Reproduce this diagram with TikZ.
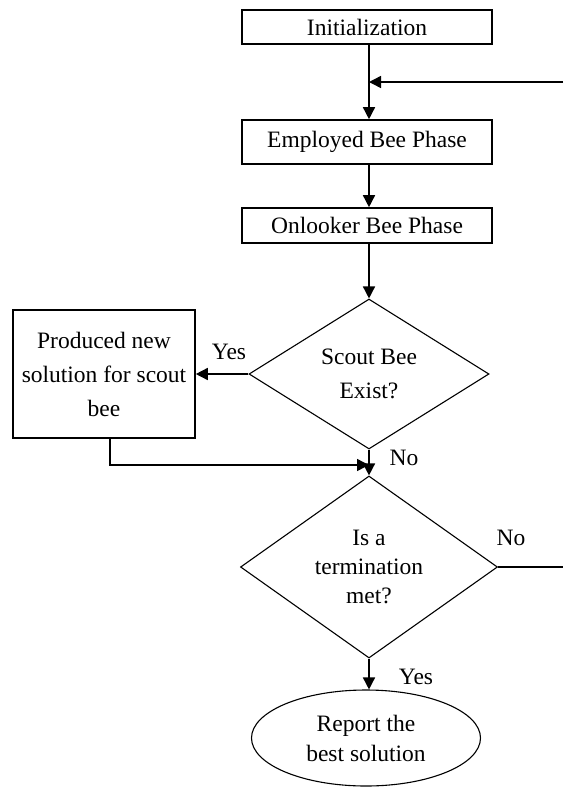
\documentclass[tikz,border=0pt]{standalone}
\usepackage{fontspec}
\setmainfont{Liberation Serif}
\usetikzlibrary{shapes.geometric,arrows.meta}
\begin{document}
\begin{tikzpicture}[x=1pt,y=-1pt,
  every node/.style={font=\fontsize{23.5}{29}\selectfont},
  box/.style={draw,line width=1.6pt,inner sep=0pt,align=center},
  dia/.style={draw,diamond,line width=1.1pt,inner sep=0pt,align=center},
  ell/.style={draw,ellipse,line width=1.1pt,inner sep=0pt,align=center},
  conn/.style={line width=1.5pt,-{Triangle[length=12pt,width=12pt]}},
  plainline/.style={line width=1.5pt},
  lbl/.style={inner sep=0pt}]
\useasboundingbox (0,0) rectangle (563,788);

\node[box,minimum width=250pt,minimum height=34pt] (init) at (367,27) {Initialization};
\node[box,minimum width=250pt,minimum height=44pt] (emp) at (367,142) {Employed Bee Phase};
\node[box,minimum width=250pt,minimum height=35pt] (onl) at (367,225.5) {Onlooker Bee Phase};
\node[dia,minimum width=240pt,minimum height=150pt,font=\fontsize{23.5}{34}\selectfont] (scout) at (369,374) {Scout Bee\\Exist?};
\node[box,minimum width=182pt,minimum height=128pt,font=\fontsize{23.5}{34}\selectfont] (prod) at (104,374) {Produced new\\solution for scout\\bee};
\node[dia,minimum width=257pt,minimum height=172pt] (term) at (369,567) {Is a\\termination\\met?};
\node[ell,minimum width=229pt,minimum height=96pt,font=\fontsize{23.5}{30}\selectfont] (rep) at (366,738) {Report the\\best solution};

\coordinate (join) at (369,82);
\coordinate (loopin) at (563,82);
\coordinate (merge) at (369,465);
\coordinate (loopout) at (563,567);
\coordinate (prodout) at (110,440);

\draw[plainline] (init.south -| join) -- (join);
\draw[conn] (join) -- (emp.north -| join);
\draw[conn] (loopin) -- (join);
\draw[conn] (emp.south -| join) -- (onl.north -| join);
\draw[conn] (onl.south -| join) -- (scout.north);
\draw[conn] (scout.west) -- (prod.east);
\draw[plainline] (scout.south) -- (merge);
\draw[conn] (prod.south -| prodout) |- (merge);
\draw[conn] (merge) -- (term.north);
\draw[plainline] (term.east) -- (loopout);
\draw[conn] (term.south) -- (term.south |- rep.north);

\node[lbl] (yes1) at (229,352) {Yes};
\node[lbl] (no1) at (404,458) {No};
\node[lbl] (no2) at (511,538) {No};
\node[lbl] (yes2) at (416,677) {Yes};
\end{tikzpicture}
\end{document}
